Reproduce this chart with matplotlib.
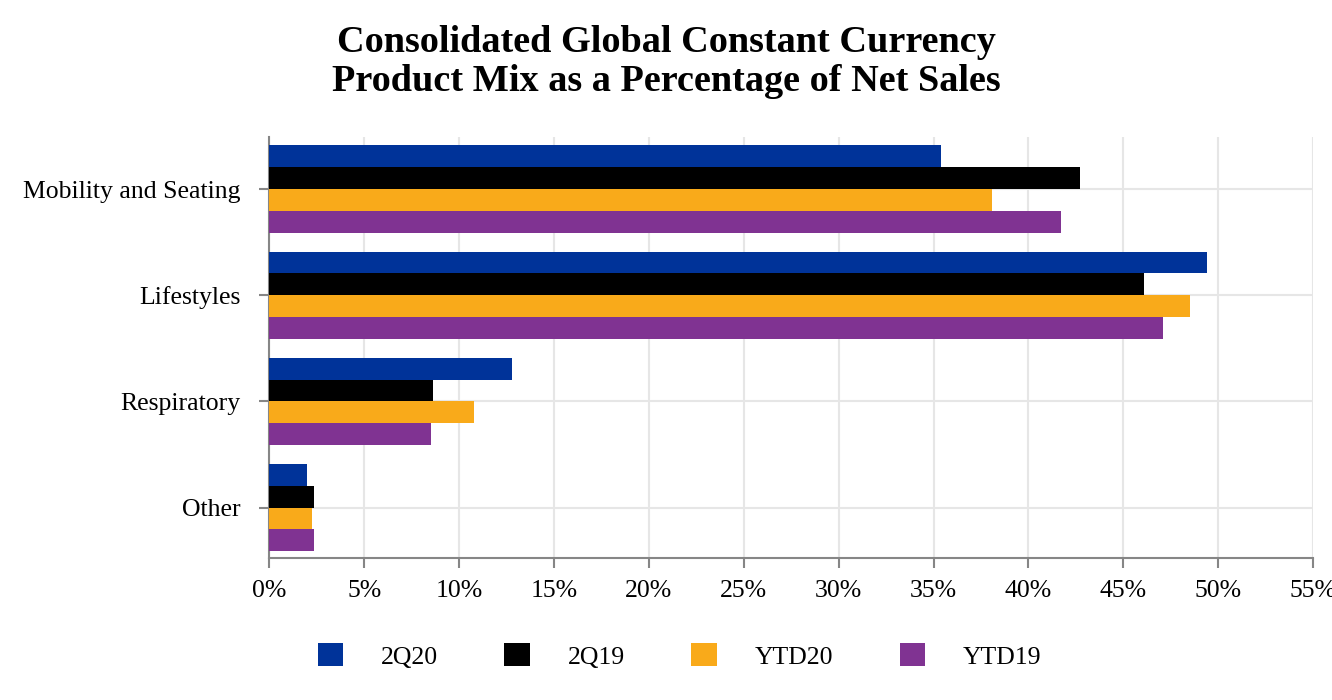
import matplotlib.pyplot as plt
import numpy as np

plt.rcParams["font.family"] = ["Liberation Serif", "DejaVu Serif"]

# Data (percent of net sales)
categories = ['Mobility and Seating', 'Lifestyles', 'Respiratory', 'Other']
series = ['2Q20', '2Q19', 'YTD20', 'YTD19']
vals_2q20 = [35.4, 49.4, 12.8, 2.0]
vals_2q19 = [42.7, 46.1, 8.6, 2.35]
vals_ytd20 = [38.1, 48.5, 10.8, 2.25]
vals_ytd19 = [41.7, 47.1, 8.5, 2.35]
xticks = list(range(0, 56, 5))

COLORS = ['#003399', '#000000', '#F9AA1A', '#803392']
GRID_COLOR = '#E6E6E6'
AXIS_COLOR = '#868686'
FS = 18.5

fig = plt.figure(figsize=(13.32, 7), dpi=100)
ax = fig.add_axes([0.2023, 0.2029, 0.9857 - 0.2023, 0.8043 - 0.2029])

y = np.arange(len(categories))
h = 0.205
offsets = [-1.5 * h, -0.5 * h, 0.5 * h, 1.5 * h]
all_vals = [vals_2q20, vals_2q19, vals_ytd20, vals_ytd19]
for name, vals, off, c in zip(series, all_vals, offsets, COLORS):
    ax.barh(y + off, vals, height=h, color=c, label=name, zorder=3, linewidth=0)

ax.set_xlim(0, 55)
ax.set_ylim(3.475, -0.49)
ax.set_xticks(xticks)
ax.set_xticklabels([f'{t}%' for t in xticks])
ax.set_yticks(y)
ax.set_yticklabels(categories)

ax.grid(True, color=GRID_COLOR, linewidth=1.5, zorder=0)
ax.set_axisbelow(True)
for side in ['top', 'right']:
    ax.spines[side].set_visible(False)
for side in ['left', 'bottom']:
    ax.spines[side].set_color(AXIS_COLOR)
    ax.spines[side].set_linewidth(1.5)
ax.tick_params(axis='both', colors=AXIS_COLOR, length=7, width=1.5, labelsize=FS,
               labelcolor='black')
ax.tick_params(axis='y', pad=14)
ax.tick_params(axis='x', pad=9)

fig.text(0.5, 0.912, 'Consolidated Global Constant Currency\nProduct Mix as a Percentage of Net Sales',
         ha='center', va='center', fontsize=27.5, fontweight='bold', linespacing=1.15)

fig.legend(loc='center', bbox_to_anchor=(0.51, 0.063), ncol=4, frameon=False,
           fontsize=FS, handlelength=1.0, handleheight=1.0, handletextpad=1.45,
           columnspacing=2.6)

fig.savefig('out.png', dpi=100)
